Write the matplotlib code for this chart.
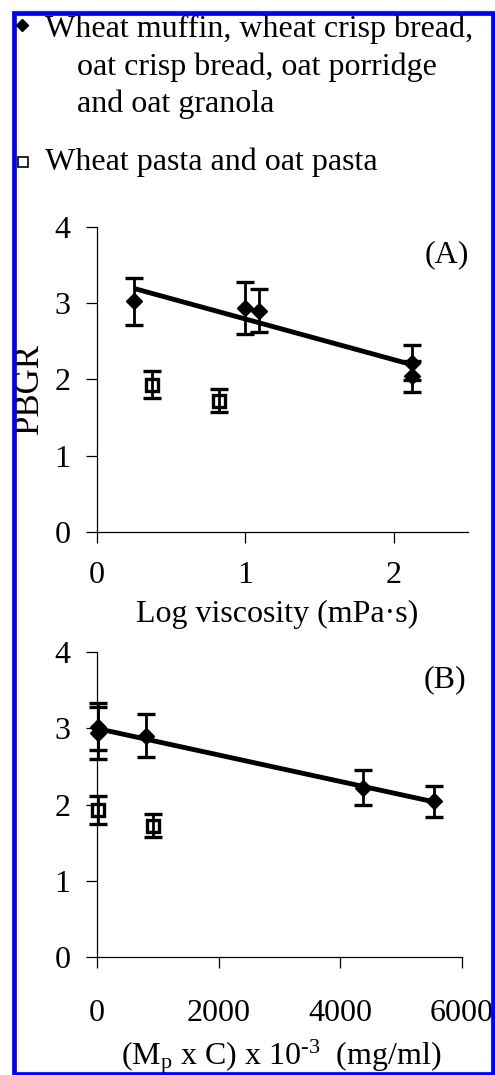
import numpy as np
import matplotlib.pyplot as plt
from matplotlib.lines import Line2D
from matplotlib.patches import Rectangle

plt.rcParams['font.family'] = 'Liberation Serif'
plt.rcParams['mathtext.fontset'] = 'custom'
plt.rcParams['mathtext.rm'] = 'Liberation Serif'
plt.rcParams['mathtext.it'] = 'Liberation Serif'

# panel A: log viscosity
log_visc_cereal = [0.25, 1.00, 1.09, 2.12, 2.12]
log_visc_pasta = [0.37, 0.82]
# panel B: Mp x C x 10^-3
mpc_cereal = [10, 20, 800, 4380, 5550]
mpc_pasta = [10, 920]
# PBGR values (same products in both panels)
pbgr_cereal = [3.02, 2.93, 2.90, 2.22, 2.04]
pbgr_cereal_err = [0.31, 0.34, 0.28, 0.23, 0.20]
pbgr_pasta = [1.93, 1.72]
pbgr_pasta_err = [0.18, 0.15]

legend_cereal = ["Wheat muffin, wheat crisp bread,",
                 "oat crisp bread, oat porridge",
                 "and oat granola"]
legend_pasta = "Wheat pasta and oat pasta"

W, H = 495, 1075
FS = 23


def fx(x):
    return x / W


def fy(y):
    return 1 - y / H


def draw_panel(ax, xc, xp, xmax, xticks, xpad):
    # pasta: open squares, error line drawn on top
    ax.plot(xp, pbgr_pasta, 's', ms=8.5, mfc='white', mec='black', mew=2.4,
            zorder=2, clip_on=False)
    ax.errorbar(xp, pbgr_pasta, yerr=pbgr_pasta_err, fmt='none', ecolor='black',
                elinewidth=2, capsize=6.5, capthick=2.4, zorder=3, clip_on=False)
    # cereals: filled diamonds
    ax.errorbar(xc, pbgr_cereal, yerr=pbgr_cereal_err, fmt='D', ms=8.5,
                color='black', elinewidth=2, capsize=6.5, capthick=2.4,
                zorder=3, clip_on=False)
    # linear trend over cereals
    k, b = np.polyfit(xc, pbgr_cereal, 1)
    xs = np.array([min(xc), max(xc)])
    ax.plot(xs, k * xs + b, color='black', lw=3.5, solid_capstyle='butt', zorder=4)

    ax.set_xlim(0, xmax)
    ax.set_ylim(0, 4)
    ax.set_xticks(xticks)
    ax.set_yticks([0, 1, 2, 3, 4])
    for s in ['top', 'right']:
        ax.spines[s].set_visible(False)
    for s in ['left', 'bottom']:
        ax.spines[s].set_linewidth(0.9)
    ax.tick_params(axis='both', direction='out', length=8, width=0.9,
                   labelsize=FS, color='black')
    ax.tick_params(axis='y', pad=11)
    ax.tick_params(axis='x', pad=xpad)


fig = plt.figure(figsize=(W / 100, H / 100), dpi=100)

ax_a = fig.add_axes([fx(97), fy(532), fx(468) - fx(97), fy(226.7) - fy(532)])
draw_panel(ax_a, log_visc_cereal, log_visc_pasta, 2.5, [0, 1, 2], 13)

ax_b = fig.add_axes([fx(97), fy(957.3), fx(461.7) - fx(97), fy(651.7) - fy(957.3)])
draw_panel(ax_b, mpc_cereal, mpc_pasta, 6000, [0, 2000, 4000, 6000], 22)

# legend
fig.add_artist(Line2D([fx(22)], [fy(25)], transform=fig.transFigure, marker='D',
                      ms=6, color='black', ls='none'))
fig.text(fx(45), fy(36.7), legend_cereal[0], fontsize=FS, va='baseline')
fig.text(fx(77), fy(75), legend_cereal[1], fontsize=FS, va='baseline')
fig.text(fx(77), fy(112), legend_cereal[2], fontsize=FS, va='baseline')
fig.add_artist(Line2D([fx(23)], [fy(162)], transform=fig.transFigure, marker='s',
                      ms=7, mfc='white', mec='black', mew=1.2, ls='none'))
fig.text(fx(45), fy(170), legend_pasta, fontsize=FS, va='baseline')

# labels
fig.text(fx(29), fy(388), "PBGR", fontsize=25, rotation=90, ha='center', va='center')
fig.text(fx(277.5), fy(622), "Log viscosity (mPa\u00b7s)", fontsize=FS,
         ha='center', va='baseline')
fig.text(fx(469), fy(255), "(A)", fontsize=FS, ha='right', va='center')
fig.text(fx(466), fy(680), "(B)", fontsize=FS, ha='right', va='center')
fig.text(fx(281), fy(1065), r"(M$_\mathrm{p}$ x C) x 10$^{\text{-3}}$  (mg/ml)",
         fontsize=FS, ha='center', va='baseline')

# blue frame
fig.add_artist(Rectangle((fx(14), fy(1073.5)), fx(493) - fx(14), fy(12.5) - fy(1073.5),
                         transform=fig.transFigure, fill=False, ec='#0000ff',
                         lw=3.4, zorder=10))

fig.savefig("out.png", dpi=100)
